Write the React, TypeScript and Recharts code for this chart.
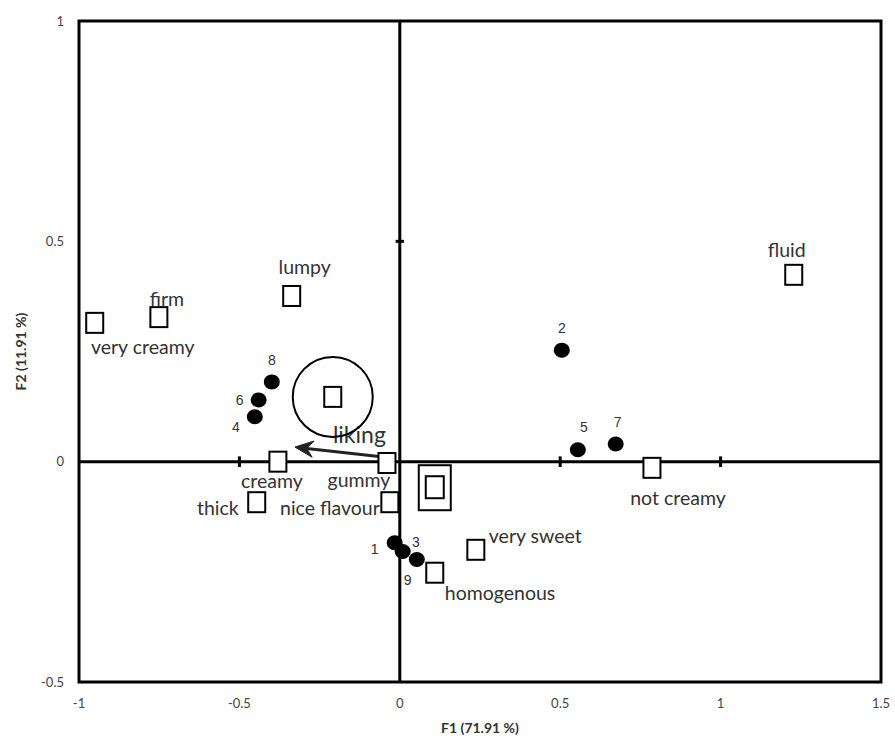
import React from "react";
import {
  ScatterChart,
  Scatter,
  XAxis,
  YAxis,
  ReferenceLine,
  ReferenceArea,
  Label,
} from "recharts";

// sensory attributes (open squares)
const attributes = [
  { name: "very creamy", f1: -0.951, f2: 0.315 },
  { name: "firm", f1: -0.751, f2: 0.328 },
  { name: "lumpy", f1: -0.337, f2: 0.376 },
  { name: "creamy", f1: -0.38, f2: 0.0 },
  { name: "gummy", f1: -0.04, f2: -0.003 },
  { name: "thick", f1: -0.446, f2: -0.092 },
  { name: "nice flavour", f1: -0.031, f2: -0.092 },
  { name: "very sweet", f1: 0.237, f2: -0.2 },
  { name: "homogenous", f1: 0.109, f2: -0.252 },
  { name: "fluid", f1: 1.228, f2: 0.424 },
  { name: "not creamy", f1: 0.786, f2: -0.014 },
];

// samples (filled dots)
const products = [
  { name: "1", f1: -0.016, f2: -0.184 },
  { name: "2", f1: 0.505, f2: 0.253 },
  { name: "3", f1: 0.053, f2: -0.222 },
  { name: "4", f1: -0.452, f2: 0.102 },
  { name: "5", f1: 0.555, f2: 0.027 },
  { name: "6", f1: -0.44, f2: 0.14 },
  { name: "7", f1: 0.673, f2: 0.04 },
  { name: "8", f1: -0.399, f2: 0.181 },
  { name: "9", f1: 0.009, f2: -0.204 },
];

const circledPoint = [{ f1: -0.209, f2: 0.147 }];
const boxedPoint = [{ f1: 0.109, f2: -0.058 }];
const likingArrow = [
  { f1: -0.016, f2: 0.008 },
  { f1: -0.327, f2: 0.033 },
];

const xTicks = [-1, -0.5, 0, 0.5, 1, 1.5];
const yTicks = [-0.5, 0, 0.5, 1];
const xMarks = [-0.5, 0.5, 1];
const yMarks = [0.5];

// label offsets in px from the marker centre: [dx, dy, anchor]
const labelPos: Record<string, [number, number, string]> = {
  "very creamy": [48, 24, "middle"],
  firm: [8, -19, "middle"],
  lumpy: [13, -29, "middle"],
  creamy: [-6, 19, "middle"],
  gummy: [-28, 17, "middle"],
  thick: [-18, 5, "end"],
  "nice flavour": [-10, 5, "end"],
  "very sweet": [13, -14, "start"],
  homogenous: [10, 20, "start"],
  fluid: [-7, -25, "middle"],
  "not creamy": [26, 30, "middle"],
  "1": [-20, 6, "middle"],
  "2": [0, -22, "middle"],
  "3": [-1, -17, "middle"],
  "4": [-19, 10, "middle"],
  "5": [6, -23, "middle"],
  "6": [-19, 0, "middle"],
  "7": [2, -22, "middle"],
  "8": [0, -22, "middle"],
  "9": [5, 28, "middle"],
};

const FONT = "Lato, 'Open Sans', sans-serif";
const TEXT = "#333";

const SquareShape = (props: any) => {
  const { cx, cy, payload } = props;
  const pos = labelPos[payload.name] || [0, -20, "middle"];
  return (
    <g>
      <rect x={cx - 8.5} y={cy - 10} width={17} height={20} fill="#fff" stroke="#000" strokeWidth={2} />
      <text
        x={cx + pos[0]}
        y={cy + pos[1]}
        textAnchor={pos[2] as any}
        dominantBaseline="central"
        fontFamily={FONT}
        fontSize={19.5}
        fill={TEXT}
      >
        {payload.name}
      </text>
    </g>
  );
};

const DotShape = (props: any) => {
  const { cx, cy, payload } = props;
  const pos = labelPos[payload.name] || [0, -20, "middle"];
  return (
    <g>
      <ellipse cx={cx} cy={cy} rx={8} ry={7.5} fill="#000" />
      <text
        x={cx + pos[0]}
        y={cy + pos[1]}
        textAnchor={pos[2] as any}
        dominantBaseline="central"
        fontFamily="'Liberation Sans', Arial, sans-serif"
        fontSize={14}
        fill={TEXT}
      >
        {payload.name}
      </text>
    </g>
  );
};

const CircledShape = (props: any) => {
  const { cx, cy } = props;
  return (
    <g>
      <circle cx={cx} cy={cy} r={40} fill="none" stroke="#000" strokeWidth={2} />
      <rect x={cx - 8.5} y={cy - 10} width={17} height={20} fill="#fff" stroke="#000" strokeWidth={2} />
    </g>
  );
};

const BoxedShape = (props: any) => {
  const { cx, cy } = props;
  return (
    <g>
      <rect x={cx - 16} y={cy - 22} width={32} height={45} fill="#fff" stroke="#000" strokeWidth={2} />
      <rect x={cx - 9} y={cy - 11} width={18} height={22} fill="#fff" stroke="#000" strokeWidth={2} />
    </g>
  );
};

const ArrowShape = (props: any) => {
  const { x1, y1, x2, y2 } = props;
  const ang = Math.atan2(y2 - y1, x2 - x1);
  const len = 20;
  const wing = 0.42;
  const ax = x2 - len * Math.cos(ang - wing);
  const ay = y2 - len * Math.sin(ang - wing);
  const bx = x2 - len * Math.cos(ang + wing);
  const by = y2 - len * Math.sin(ang + wing);
  const mx = x2 - 12 * Math.cos(ang);
  const my = y2 - 12 * Math.sin(ang);
  return (
    <g>
      <line x1={x1} y1={y1} x2={mx} y2={my} stroke="#222" strokeWidth={3} />
      <path d={`M${x2},${y2} L${ax},${ay} L${mx},${my} L${bx},${by} Z`} fill="#222" stroke="#222" strokeWidth={1} />
      <text x={x2 + 38} y={y2 - 4} fontFamily={FONT} fontSize={23} fill={TEXT}>
        liking
      </text>
    </g>
  );
};

export default function App() {
  return (
    <div style={{ position: "absolute", left: 0, top: 0, background: "#fff" }}>
      <ScatterChart width={895} height={740} margin={{ top: 21, right: 14, left: 19, bottom: 0 }}>
        <XAxis
          type="number"
          dataKey="f1"
          domain={[-1, 1.5]}
          ticks={xTicks}
          axisLine={false}
          tickLine={false}
          tickMargin={11}
          height={58}
          tick={{ fontFamily: FONT, fontSize: 13, fill: "#444" }}
          allowDataOverflow
        >
          <Label
            value="F1 (71.91 %)"
            position="insideBottom"
            offset={7}
            style={{ fontFamily: FONT, fontSize: 14, fontWeight: 700, fill: TEXT }}
          />
        </XAxis>
        <YAxis
          type="number"
          dataKey="f2"
          domain={[-0.5, 1]}
          ticks={yTicks}
          axisLine={false}
          tickLine={false}
          tickMargin={9}
          width={60}
          tick={{ fontFamily: FONT, fontSize: 13, fill: "#444" }}
          allowDataOverflow
        >
          <Label
            content={(p: any) => {
              const vb = p.viewBox;
              const x = vb.x + 1;
              const y = vb.y + vb.height / 2;
              return (
                <text
                  x={x}
                  y={y}
                  transform={`rotate(-90, ${x}, ${y})`}
                  textAnchor="middle"
                  dominantBaseline="central"
                  fontFamily={FONT}
                  fontSize={14}
                  fontWeight={700}
                  fill={TEXT}
                >
                  F2 (11.91 %)
                </text>
              );
            }}
          />
        </YAxis>
        <ReferenceArea
          x1={-1}
          x2={1.5}
          y1={-0.5}
          y2={1}
          fill="none"
          fillOpacity={0}
          stroke="#000"
          strokeWidth={3}
        />
        <ReferenceLine x={0} stroke="#000" strokeWidth={3} />
        <ReferenceLine y={0} stroke="#000" strokeWidth={3} />
        {xMarks.map((v) => (
          <ReferenceLine
            key={`xm-${v}`}
            segment={[
              { x: v, y: -0.012 },
              { x: v, y: 0.012 },
            ]}
            stroke="#000"
            strokeWidth={3}
          />
        ))}
        {yMarks.map((v) => (
          <ReferenceLine
            key={`ym-${v}`}
            segment={[
              { x: -0.013, y: v },
              { x: 0.013, y: v },
            ]}
            stroke="#000"
            strokeWidth={3}
          />
        ))}
        <ReferenceLine
          segment={[
            { x: likingArrow[0].f1, y: likingArrow[0].f2 },
            { x: likingArrow[1].f1, y: likingArrow[1].f2 },
          ]}
          shape={ArrowShape}
        />
        <Scatter data={circledPoint} shape={CircledShape} isAnimationActive={false} />
        <Scatter data={boxedPoint} shape={BoxedShape} isAnimationActive={false} />
        <Scatter data={attributes} shape={SquareShape} isAnimationActive={false} />
        <Scatter data={products} shape={DotShape} isAnimationActive={false} />
      </ScatterChart>
    </div>
  );
}
